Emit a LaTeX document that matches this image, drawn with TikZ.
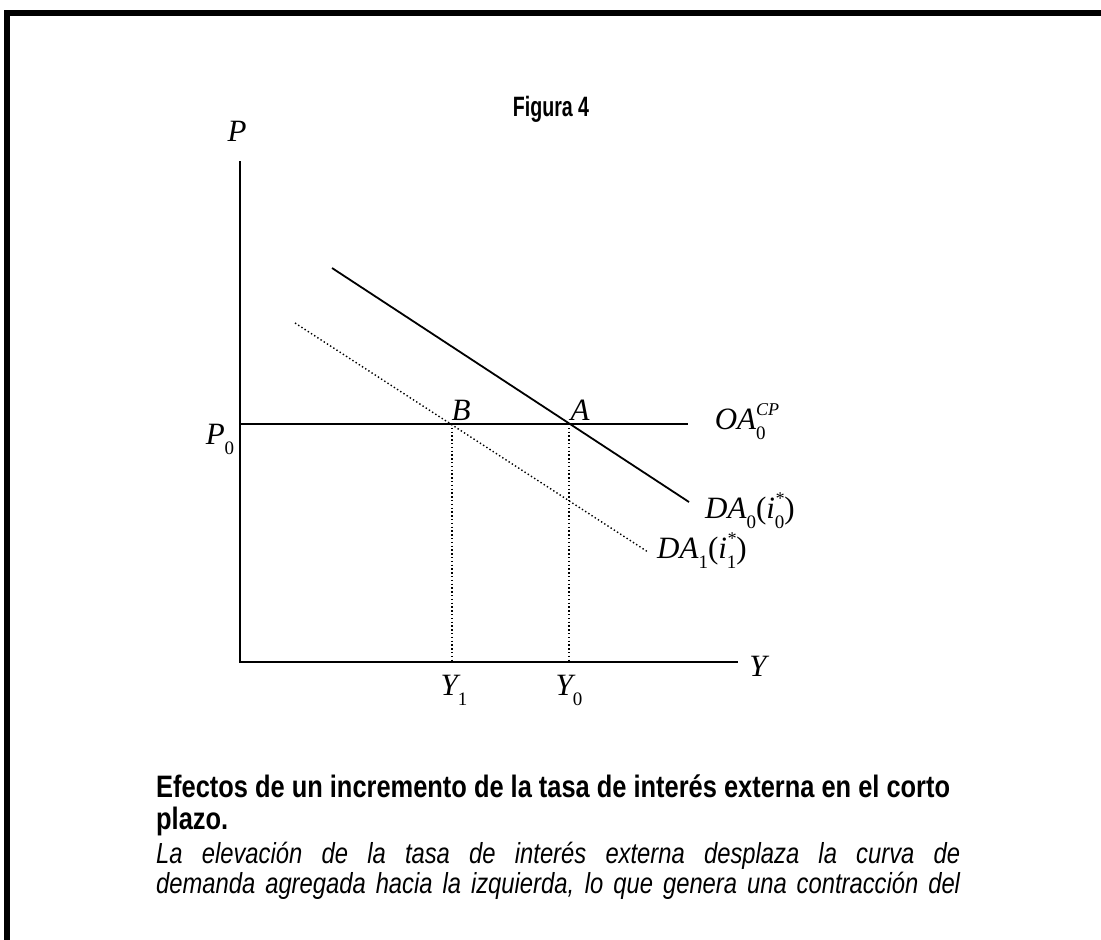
\documentclass[tikz,border=0pt]{standalone}
\usepackage{fontspec}
\setsansfont{Liberation Sans}[FakeStretch=0.82]
\newfontfamily\titlefont{Liberation Sans}[FakeStretch=0.7]
\newfontfamily\tnr{Liberation Serif}
\usetikzlibrary{positioning}
% small indices set in the text font
\newcommand{\lo}[1]{\raisebox{-0.32em}{\fontsize{19}{19}\selectfont\upshape #1}}
\newcommand{\hi}[1]{\raisebox{0.45em}{\fontsize{18}{18}\selectfont #1}}

\begin{document}
\begin{tikzpicture}[x=1pt,y=-1pt,
    axis/.style={line width=2pt},
    demand/.style={line width=1.8pt},
    guide/.style={line width=1.4pt,dash pattern=on 1.4pt off 2.4pt},
    lbl/.style={inner sep=0pt,font=\tnr\itshape\fontsize{31}{34}\selectfont},
    capbold/.style={inner sep=0pt,anchor=north west,align=left,
      font=\sffamily\bfseries\fontsize{31}{32}\selectfont},
    capit/.style={inner sep=0pt,anchor=north west,
      font=\sffamily\itshape\fontsize{29}{30}\selectfont}]
  \useasboundingbox (0,0) rectangle (1101,940);
  \draw[line width=6pt] (1101,13) -- (7,13) -- (7,940);

  \node[font=\titlefont\bfseries\fontsize{28}{30}\selectfont] (title) at (551,109) {Figura 4};

  % axes and points
  \coordinate (O)     at (240,662);
  \coordinate (Ptop)  at (240,161);
  \coordinate (Yend)  at (738,662);
  \coordinate (P0)    at (240,424);
  \coordinate (OAend) at (688,424);
  \coordinate (A)     at (569,424);
  \coordinate (B)     at (452,424);
  \coordinate (Y0)    at (569,662);
  \coordinate (Y1)    at (452,662);
  \coordinate (DA0s)  at (332,268);
  \coordinate (DA0e)  at (689,502);
  \coordinate (DA1s)  at (295,323);
  \coordinate (DA1e)  at (648,552);

  \draw[axis] (Ptop) -- (O) -- (Yend);
  \draw[axis] (P0) -- (OAend);
  \draw[demand] (DA0s) -- (DA0e);
  \draw[guide] (DA1s) -- (DA1e);
  \draw[guide] (B) -- (Y1);
  \draw[guide] (A) -- (Y0);

  \node[lbl] (Plab)  at (237,131) {P};
  \node[lbl] (Ylab)  at (758,666) {Y};
  \node[lbl] (P0lab) at (220,439) {P\lo{0}};
  \node[lbl] (Blab)  at (461,410) {B};
  \node[lbl] (Alab)  at (580,410) {A};
  \node[lbl] (OAlab) at (747,422) {OA\rlap{\lo{0}}\hi{CP}};
  \node[lbl] (DA0lab) at (750,511) {DA\lo{0}{\upshape(}i\rlap{\hi{*}}\lo{0}{\upshape)}};
  \node[lbl] (DA1lab) at (702,551) {DA\lo{1}{\upshape(}i\rlap{\hi{*}}\lo{1}{\upshape)}};
  \node[lbl] (Y1lab) at (454,690) {Y\lo{1}};
  \node[lbl] (Y0lab) at (569,690) {Y\lo{0}};

  % caption
  \node[capbold] (cap) at (156,775)
    {Efectos de un incremento de la tasa de interés externa en el corto\\plazo.};
  \node[capit] (text) at (156,842) {\parbox{804pt}{\parfillskip=0pt
    La elevación de la tasa de interés externa desplaza la curva de\linebreak
    demanda agregada hacia la izquierda, lo que genera una contracción del}};
\end{tikzpicture}
\end{document}
